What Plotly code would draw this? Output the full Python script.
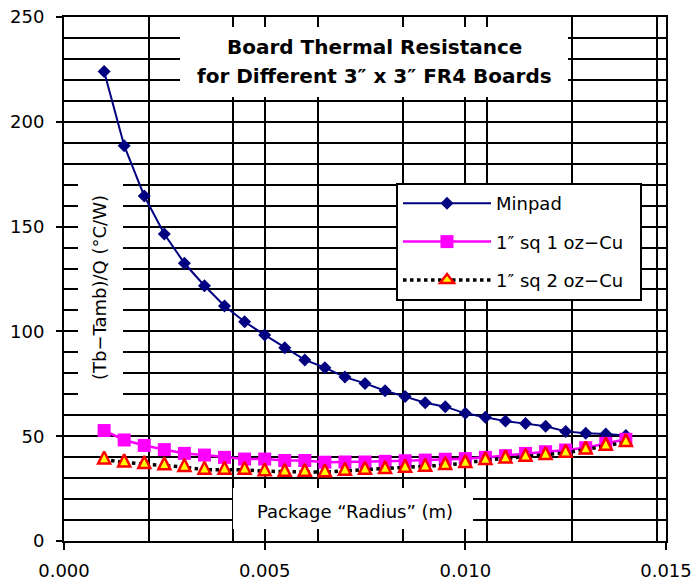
import plotly.graph_objects as go

# ---- data ----
radius_m = [0.0010, 0.0015, 0.0020, 0.0025, 0.0030, 0.0035, 0.0040, 0.0045, 0.0050,
            0.0055, 0.0060, 0.0065, 0.0070, 0.0075, 0.0080, 0.0085, 0.0090, 0.0095,
            0.0100, 0.0105, 0.0110, 0.0115, 0.0120, 0.0125, 0.0130, 0.0135, 0.0140]

minpad = [224.0, 188.6, 164.6, 146.5, 132.5, 121.8, 112.1, 104.6, 98.3,
          92.2, 86.4, 82.7, 78.2, 75.2, 71.7, 68.9, 66.0, 64.1,
          60.9, 59.0, 57.2, 56.0, 54.7, 52.3, 51.4, 51.0, 50.3]

sq1oz = [52.7, 48.2, 45.6, 43.6, 41.8, 41.0, 39.9, 39.1, 39.1,
         38.4, 38.4, 37.6, 37.7, 37.7, 38.0, 38.3, 38.6, 39.0,
         39.3, 39.9, 40.7, 41.8, 42.6, 43.4, 44.5, 46.6, 48.5]

sq2oz = [38.9, 37.5, 36.7, 36.1, 35.3, 34.0, 34.0, 34.0, 33.3,
         33.0, 33.0, 32.8, 33.5, 34.0, 34.3, 35.0, 35.4, 36.2,
         37.2, 38.6, 39.4, 40.2, 41.0, 42.1, 43.6, 45.5, 47.2]

series_names = ["Minpad", "1\u2033 sq 1 oz\u2212Cu", "1\u2033 sq 2 oz\u2212Cu"]
x_tick_vals = [0.0, 0.005, 0.010, 0.015]
y_tick_vals = [0, 50, 100, 150, 200, 250]

title_lines = ["Board Thermal Resistance", "for Different 3\u2033 x 3\u2033 FR4 Boards"]
x_title = "Package \u201cRadius\u201d (m)"
y_title = "(Tb\u2212Tamb)/Q (\u00b0C/W)"

FONT = "DejaVu Sans, Verdana, sans-serif"
PAD = "\u00a0\u00a0"   # a little room on the right side of the legend box

fig = go.Figure()

fig.add_trace(go.Scatter(
    x=radius_m, y=minpad, name=series_names[0] + PAD, mode="lines+markers",
    line=dict(color="#000080", width=2),
    marker=dict(symbol="diamond", size=10, color="#000080"),
    legendgroup="a"))

fig.add_trace(go.Scatter(
    x=radius_m, y=sq1oz, name=series_names[1] + PAD, mode="lines+markers",
    line=dict(color="#FF00FF", width=2.5),
    marker=dict(symbol="square", size=13, color="#FF00FF"),
    legendgroup="b"))

fig.add_trace(go.Scatter(
    x=radius_m, y=sq2oz, name=series_names[2] + PAD, mode="lines+markers",
    line=dict(color="black", width=3.5, dash="dot"),
    marker=dict(symbol="arrow-down", angle=180, size=12, standoff=8, color="#FFFF00",
                line=dict(color="#FF0000", width=2.5)),
    legendgroup="c", showlegend=False))

# legend entry for the 2 oz series (same style, upright triangle symbol)
fig.add_trace(go.Scatter(
    x=[None], y=[None], name=series_names[2] + PAD, mode="lines+markers",
    line=dict(color="black", width=3.5, dash="dot"),
    marker=dict(symbol="triangle-up", size=12, color="#FFFF00",
                line=dict(color="#FF0000", width=2.5)),
    legendgroup="c", hoverinfo="skip"))

# white boxes that interrupt the grid
boxes = [
    (180, 568, 27, 97),    # chart title box
    (78, 123, 172, 405),   # y-axis title box
    (233, 473, 488, 529),  # x-axis title box
]
PL, PR, PT, PB = 64, 666, 17, 541
def px2paper_x(p):
    return (p - PL) / (PR - PL)
def px2paper_y(p):
    return (PB - p) / (PB - PT)

for (x0, x1, y0, y1) in boxes:
    fig.add_shape(type="rect", xref="paper", yref="paper",
                  x0=px2paper_x(x0), x1=px2paper_x(x1),
                  y0=px2paper_y(y1), y1=px2paper_y(y0),
                  fillcolor="white", line=dict(width=0), layer="above")

def label(text, cx, cy, size, angle=0):
    fig.add_annotation(text=text, xref="paper", yref="paper",
                       x=px2paper_x(cx), y=px2paper_y(cy),
                       xanchor="center", yanchor="middle", textangle=angle,
                       showarrow=False,
                       font=dict(family=FONT, size=size, color="black"))

label("<b>%s</b>" % title_lines[0], 374, 47, 20)
label("<b>%s</b>" % title_lines[1], 374, 76, 20)
label(x_title, 355, 511, 18)
label(y_title, 99, 288, 18, angle=-90)

fig.update_layout(
    width=694, height=583,
    margin=dict(l=64, r=28, t=17, b=42, autoexpand=False),
    paper_bgcolor="white", plot_bgcolor="white",
    font=dict(family=FONT, size=18, color="black"),
    showlegend=True,
    legend=dict(x=px2paper_x(396), y=px2paper_y(183), xanchor="left", yanchor="top",
                bgcolor="white", bordercolor="black", borderwidth=2,
                font=dict(family=FONT, size=18, color="black"),
                traceorder="grouped", tracegroupgap=12, itemwidth=88),
    xaxis=dict(range=[0, 0.015], tickvals=x_tick_vals, tickformat=".3f",
               automargin=False,
               showline=True, linecolor="black", linewidth=2, mirror=True,
               ticks="outside", ticklen=7, tickwidth=2, tickcolor="black",
               ticklabelstandoff=5,
               showgrid=True, gridcolor="black", gridwidth=2, zeroline=False,
               minor=dict(tick0=0, dtick=0.00211, showgrid=True, gridcolor="black",
                          gridwidth=2, ticks="")),
    yaxis=dict(range=[0, 250], tickvals=y_tick_vals,
               automargin=False,
               showline=True, linecolor="black", linewidth=2, mirror=True,
               ticks="outside", ticklen=6, tickwidth=2, tickcolor="black",
               ticklabelstandoff=8,
               showgrid=True, gridcolor="black", gridwidth=2, zeroline=False,
               minor=dict(dtick=10, showgrid=True, gridcolor="black",
                          gridwidth=2, ticks="")),
)

fig.write_html("out.html")
